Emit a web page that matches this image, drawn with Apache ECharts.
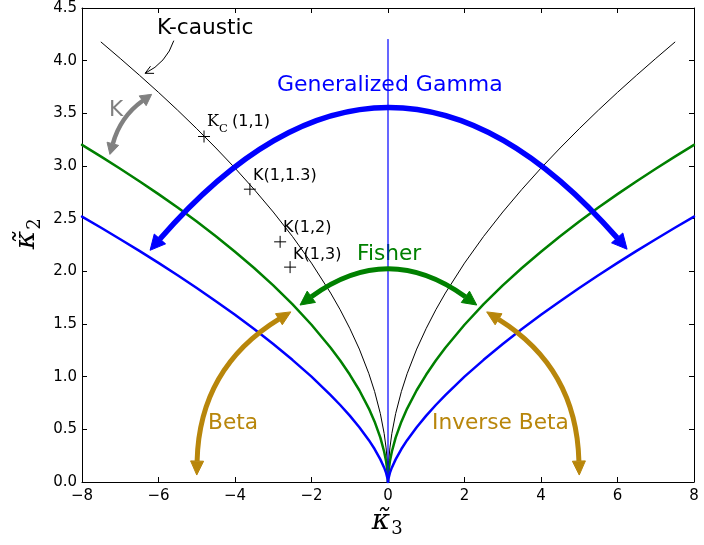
<!DOCTYPE html>
<html><head><meta charset="utf-8">
<script src="https://cdn.jsdelivr.net/npm/echarts@6/dist/echarts.min.js"></script>
<style>html,body{margin:0;padding:0;background:#fff}#c{width:704px;height:545px}</style>
</head><body><div id="c"></div>
<script>
// |kappa3| sample points and kappa2 values (curves are mirror-symmetric)
const curveX = [0,0.01,0.02,0.05,0.1,0.2,0.35,0.5,0.75,1,1.25,1.5,2,2.5,3,3.5,4,4.5,5,5.5,6,6.5,7,7.5,8];
const gammaK2 = [0,0.029,0.046,0.086,0.136,0.215,0.313,0.397,0.520,0.630,0.731,0.825,1.000,1.160,1.310,1.452,1.587,1.717,1.842,1.963,2.080,2.194,2.305,2.414,2.520];
const fisherK2 = [0,0.081,0.119,0.196,0.287,0.421,0.573,0.697,0.871,1.020,1.153,1.275,1.493,1.688,1.866,2.032,2.186,2.333,2.472,2.605,2.733,2.856,2.974,3.089,3.201];
const causticX = [0,0.01,0.02,0.05,0.1,0.2,0.35,0.5,0.75,1,1.25,1.5,2,2.5,3,3.5,4,4.5,5,5.5,6,6.5,7,7.5];
const causticK2 = [0,0.145,0.205,0.324,0.459,0.649,0.859,1.028,1.262,1.459,1.635,1.794,2.078,2.332,2.563,2.778,2.980,3.171,3.354,3.530,3.699,3.862,4.021,4.176];
const axisLineK2 = [0, 4.2];

// K family points
const kPointX = [-4.81,-3.61,-2.82,-2.56];
const kPointY = [3.28,2.78,2.28,2.04];

// curved annotation arrows: [x1,y1, x2,y2, ctrlX,ctrlY]
const ggArrow = [-6.22,2.20, 6.25,2.21, 0,4.80];
const fisherArrow = [-2.30,1.68, 2.32,1.68, 0,2.29];
const betaArrow = [-5.0,0.066, -2.54,1.615, -4.93,1.083];
const invBetaArrow = [5.0,0.066, 2.58,1.615, 4.93,1.083];
const kArrow = [-7.27,3.11, -6.18,3.68, -7.0,3.467];
const causticArrow = [-5.6,4.19, -6.35,3.88, -5.79,3.98];

const xTicks = {min:-8, max:8, interval:2};
const yTicks = {min:0, max:4.5, interval:0.5};

function side(xs, ys, sign){ return xs.map((x,i)=>[sign*x, ys[i]]); }
function lineSeries(data, color, width){
  return {type:'line', data:data, showSymbol:false, symbol:'none', silent:true, z:2,
    lineStyle:{color:color, width:width, cap:'round', join:'round'}, clip:true, animation:false};
}
function arrowSeries(row, color, lw, hl, hw, both, open){
  return {
    type:'custom', coordinateSystem:'cartesian2d', silent:true, z:5, clip:false, animation:false,
    data:[row], encode:{x:[0,2,4], y:[1,3,5]},
    renderItem:function(params, api){
      const a = api.coord([api.value(0), api.value(1)]);
      const b = api.coord([api.value(2), api.value(3)]);
      const c = api.coord([api.value(4), api.value(5)]);
      function head(tip, from){
        const dx=tip[0]-from[0], dy=tip[1]-from[1], L=Math.hypot(dx,dy);
        const ux=dx/L, uy=dy/L, bx=tip[0]-ux*hl, by=tip[1]-uy*hl, nx=-uy, ny=ux;
        return {tip:tip, base:[bx,by], l:[bx+nx*hw/2, by+ny*hw/2], r:[bx-nx*hw/2, by-ny*hw/2]};
      }
      const hb = head(b, c), ha = head(a, c);
      const children = [];
      const s = (both && !open) ? ha.base : a;
      const e = open ? b : hb.base;
      children.push({type:'bezierCurve', shape:{x1:s[0], y1:s[1], x2:e[0], y2:e[1], cpx1:c[0], cpy1:c[1]},
        style:{stroke:color, lineWidth:lw, fill:null}});
      const heads = both ? [ha, hb] : [hb];
      heads.forEach(h=>{
        if(open){
          children.push({type:'polyline', shape:{points:[h.l, h.tip, h.r]}, style:{stroke:color, lineWidth:lw, fill:null}});
        } else {
          children.push({type:'polygon', shape:{points:[h.tip, h.l, h.r]}, style:{fill:color, stroke:color, lineWidth:1, lineJoin:'round'}});
        }
      });
      return {type:'group', children:children};
    }
  };
}

const crossSeries = {
  type:'custom', coordinateSystem:'cartesian2d', silent:true, z:6, animation:false,
  data: kPointX.map((x,i)=>[x, kPointY[i]]),
  renderItem:function(params, api){
    const p = api.coord([api.value(0), api.value(1)]);
    const r = 6;
    return {type:'group', children:[
      {type:'line', shape:{x1:p[0]-r, y1:p[1], x2:p[0]+r, y2:p[1]}, style:{stroke:'#000', lineWidth:1}},
      {type:'line', shape:{x1:p[0], y1:p[1]-r, x2:p[0], y2:p[1]+r}, style:{stroke:'#000', lineWidth:1}}
    ]};
  }
};

const tickFont = {fontSize:15, fontFamily:'DejaVu Sans', color:'#000'};
const axLine = {show:true, onZero:false, lineStyle:{color:'#000', width:1}};
const axTick = {show:true, inside:true, length:5, lineStyle:{color:'#000', width:1}};
const fmtX = v => v < 0 ? '\u2212' + (-v) : String(v);

const GOLD = '#b8860b';
const T = (x, y, text, size, color, family) => ({type:'text', x:x, y:y,
  style:{text:text, fontSize:size, fontFamily:family || 'DejaVu Sans', fill:color || '#000', align:'left', verticalAlign:'middle'}});
const option = {
  animation:false,
  backgroundColor:'#fff',
  grid:{left:82, right:10, top:8, bottom:63, containLabel:false},
  xAxis:[
    Object.assign({type:'value', position:'bottom', axisLine:axLine, axisTick:axTick,
      axisLabel:Object.assign({margin:7, formatter:fmtX}, tickFont), splitLine:{show:false}}, xTicks),
    Object.assign({type:'value', position:'top', axisLine:axLine, axisTick:axTick,
      axisLabel:{show:false}, splitLine:{show:false}}, xTicks)
  ],
  yAxis:[
    Object.assign({type:'value', position:'left', axisLine:axLine, axisTick:axTick,
      axisLabel:Object.assign({margin:5, formatter:v=>v.toFixed(1)}, tickFont), splitLine:{show:false}}, yTicks),
    Object.assign({type:'value', position:'right', axisLine:axLine, axisTick:axTick,
      axisLabel:{show:false}, splitLine:{show:false}}, yTicks)
  ],
  series:[
    lineSeries(side(causticX, causticK2, -1), '#000', 1),
    lineSeries(side(causticX, causticK2, 1), '#000', 1),
    lineSeries(side(curveX, fisherK2, -1), '#008000', 2.5),
    lineSeries(side(curveX, fisherK2, 1), '#008000', 2.5),
    lineSeries(side(curveX, gammaK2, -1), '#0000ff', 2.5),
    lineSeries(side(curveX, gammaK2, 1), '#0000ff', 2.5),
    lineSeries(axisLineK2.map(y=>[0,y]), '#0000ff', 1.2),
    arrowSeries(ggArrow, '#0000ff', 5.5, 15, 15, true, false),
    arrowSeries(fisherArrow, '#008000', 5, 14, 14, true, false),
    arrowSeries(betaArrow, GOLD, 5, 14, 13, true, false),
    arrowSeries(invBetaArrow, GOLD, 5, 14, 13, true, false),
    arrowSeries(kArrow, '#808080', 4.5, 11, 12, true, false),
    arrowSeries(causticArrow, '#000', 1, 8, 8, false, true),
    crossSeries
  ],
  graphic:[
    T(157, 28, 'K-caustic', 21.7),
    T(277, 85, 'Generalized Gamma', 22, '#0000ff'),
    T(357, 254, 'Fisher', 21.7, '#008000'),
    T(208, 423, 'Beta', 21.7, GOLD),
    T(432, 423, 'Inverse Beta', 21.7, GOLD),
    T(109, 110, 'K', 21.7, '#808080'),
    T(207, 122, 'K', 16, '#000', 'DejaVu Serif'),
    T(219, 129, 'C', 11.5, '#000', 'DejaVu Serif'),
    T(232, 122, '(1,1)', 16),
    T(253, 176, 'K(1,1.3)', 16),
    T(283, 228, 'K(1,2)', 16),
    T(293, 255, 'K(1,3)', 16),
    {type:'text', x:381, y:522, style:{text:'\u03BA\u0303', fontSize:28, fontFamily:'DejaVu Serif', fontStyle:'italic', fill:'#000', align:'center', verticalAlign:'middle'}},
    {type:'text', x:397, y:529, style:{text:'3', fontSize:18, fontFamily:'DejaVu Serif', fill:'#000', align:'center', verticalAlign:'middle'}},
    {type:'text', x:27, y:240, rotation:Math.PI/2, style:{text:'\u03BA\u0303', fontSize:28, fontFamily:'DejaVu Serif', fontStyle:'italic', fill:'#000', align:'center', verticalAlign:'middle'}},
    {type:'text', x:35, y:224, rotation:Math.PI/2, style:{text:'2', fontSize:18, fontFamily:'DejaVu Serif', fill:'#000', align:'center', verticalAlign:'middle'}}
  ]
};
const chart = echarts.init(document.getElementById('c'), null, {renderer:'canvas'});
chart.setOption(option);
</script>
</body></html>
